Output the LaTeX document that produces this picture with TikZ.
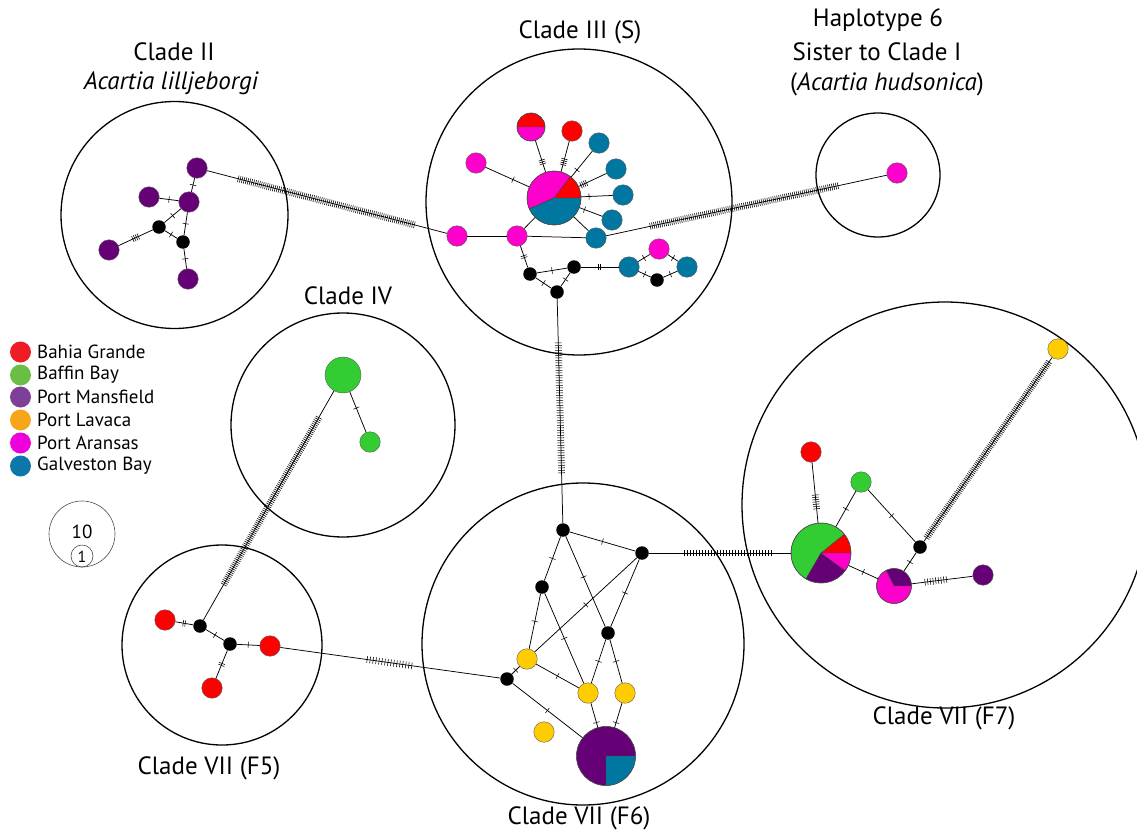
\documentclass[tikz,border=0pt]{standalone}
\usepackage{fontspec}
\setmainfont{PT Sans}
\usetikzlibrary{decorations.markings}
\definecolor{cR}{HTML}{FF0000}
\definecolor{cG}{HTML}{33CC33}
\definecolor{cP}{HTML}{660077}
\definecolor{cY}{HTML}{FFCC00}
\definecolor{cM}{HTML}{FF00CC}
\definecolor{cB}{HTML}{0077A0}
\definecolor{lR}{HTML}{EE1C25}
\definecolor{lG}{HTML}{6ABD45}
\definecolor{lP}{HTML}{7D3F98}
\definecolor{lY}{HTML}{F9A51A}
\definecolor{lM}{HTML}{EC00DC}
\definecolor{lB}{HTML}{0E77A9}
\newcommand{\pieslice}[5]{\filldraw[fill=#5, draw=black!75, line width=0.4pt] (#1) -- ++(#3:#2) arc[start angle=#3, end angle=#4, radius=#2] -- cycle;}
\tikzset{
  hap/.style={circle, draw=black!65, line width=0.4pt, inner sep=0pt, minimum size=20.5pt},
  nR/.style={hap, fill=cR},
  nG/.style={hap, fill=cG},
  nP/.style={hap, fill=cP},
  nY/.style={hap, fill=cY},
  nM/.style={hap, fill=cM},
  nB/.style={hap, fill=cB},
  med/.style={circle, fill=black, inner sep=0pt, minimum size=13.5pt},
  pienode/.style={circle, draw=black!70, line width=0.5pt, inner sep=0pt, minimum size=#1},
  clade/.style={circle, draw=black, line width=1.3pt, inner sep=0pt, minimum size=#1},
  edge/.style={line width=0.75pt},
  tickline/.style={line width=0.55pt},
  mt/.style n args={3}{postaction={decorate, decoration={markings, mark=at position #1 with {\foreach \i in {1,...,#2}{\draw[tickline] ({(\i-(#2+1)/2)*#3},-3.2pt) -- ++(0pt,6.4pt);}}}}},
  one/.style={mt={#1}{1}{2pt}},
  hatch/.style n args={3}{postaction={decorate, decoration={markings, mark=between positions #1 and #2 step #3 with {\draw[tickline] (0pt,-3.4pt) -- (0pt,3.4pt);}}}},
  lbl/.style={font=\fontsize{25}{29}\selectfont, inner sep=0pt},
  leg/.style={font=\fontsize{19}{22}\selectfont, inner sep=0pt, anchor=west},
  legdot/.style={circle, inner sep=0pt, minimum size=21pt},
}
\begin{document}
\begin{tikzpicture}[x=1pt,y=-1pt]
\clip (0,0) rectangle (1137,832);
\fill[white] (0,0) rectangle (1137,832);

% clade circles
\node[clade=227pt] (cl2) at (174.5,215) {};
\node[clade=306pt] (cl3) at (579,202) {};
\node[clade=124pt] (cl6) at (878,175) {};
\node[clade=224pt] (cl4) at (343,425) {};
\node[clade=200pt] (cl5) at (222,645) {};
\node[clade=322pt] (cl6b) at (583,644) {};
\node[clade=406pt] (cl7) at (945,505) {};

% labels
\node[lbl] (t2a) at (174,52) {Clade II};
\node[lbl] (t2b) at (171,83) {\itshape Acartia lilljeborgi};
\node[lbl] (t3) at (580,32) {Clade III (S)};
\node[lbl] (t6a) at (878,20) {Haplotype 6};
\node[lbl] (t6b) at (877,52) {Sister to Clade I};
\node[lbl] (t6c) at (887,84) {(\textit{Acartia hudsonica})};
\node[lbl] (t4) at (348,296) {Clade IV};
\node[lbl] (t5) at (209,768) {Clade VII (F5)};
\node[lbl] (t6f) at (579,818) {Clade VII (F6)};
\node[lbl] (t7) at (944,718) {Clade VII (F7)};

% legend
\node[legdot, fill=lR] (lg1) at (20.5,352) {};
\node[legdot, fill=lG] (lg2) at (20.5,375) {};
\node[legdot, fill=lP] (lg3) at (20.5,397) {};
\node[legdot, fill=lY] (lg4) at (20.5,420) {};
\node[legdot, fill=lM] (lg5) at (20.5,443) {};
\node[legdot, fill=lB] (lg6) at (20.5,466) {};
\node[leg] (lt1) at (37,352) {Bahia Grande};
\node[leg] (lt2) at (37,375) {Baffin Bay};
\node[leg] (lt3) at (37,397) {Port Mansfield};
\node[leg] (lt4) at (37,420) {Port Lavaca};
\node[leg] (lt5) at (37,443) {Port Aransas};
\node[leg] (lt6) at (37,466) {Galveston Bay};

% scale
\node[circle, draw=black!70, line width=0.6pt, minimum size=66pt, inner sep=0pt] (sc10) at (82,534) {};
\node[circle, draw=black!70, line width=0.6pt, minimum size=22pt, inner sep=0pt] (sc1) at (82,556) {};
\node[font=\fontsize{19}{22}\selectfont, inner sep=0pt] (sct10) at (82,532) {10};
\node[font=\fontsize{16}{19}\selectfont, inner sep=0pt] (sct1) at (82,556.5) {1};

% Clade II
\node[nP] (c2a) at (197,168) {};
\node[nP] (c2b) at (149,197) {};
\node[nP] (c2c) at (189,202) {};
\node[med] (c2k1) at (159,227) {};
\node[med] (c2k2) at (183,242) {};
\node[nP] (c2d) at (109,250) {};
\node[nP] (c2e) at (188,279) {};

% Clade III
\coordinate (c3Cc) at (554,198);
\pieslice{c3Cc}{27pt}{0}{53}{cR}
\pieslice{c3Cc}{27pt}{53}{204}{cM}
\pieslice{c3Cc}{27pt}{204}{360}{cB}
\node[pienode=54pt] (c3C) at (c3Cc) {};
\coordinate (c3hc) at (531,127);
\pieslice{c3hc}{14pt}{0}{180}{cR}
\pieslice{c3hc}{14pt}{180}{360}{cM}
\node[pienode=28pt] (c3h) at (c3hc) {};
\node[nR] (c3r) at (572,131) {};
\node[nB] (c3b1) at (599,143) {};
\node[nB] (c3b2) at (616,169) {};
\node[nB] (c3b3) at (623,195) {};
\node[nB] (c3b4) at (612,220) {};
\node[nB] (c3b5) at (596,238) {};
\node[nM] (c3m1) at (476,163) {};
\node[nM] (c3m2) at (457,236) {};
\node[nM] (c3m3) at (517,236) {};
\node[med] (c3k1) at (530,274) {};
\node[med] (c3k2) at (574,267) {};
\node[med] (c3k3) at (557,292) {};
\node[nB] (c3b6) at (629,267) {};
\node[nM] (c3m4) at (659,249) {};
\node[med] (c3k4) at (657,280) {};
\node[nB] (c3b7) at (687,267) {};

% Haplotype 6
\node[nM] (h6) at (897,173) {};

% Clade IV
\node[hap, fill=cG, minimum size=36pt] (c4a) at (343,375) {};
\node[nG] (c4b) at (370,442) {};

% F5
\node[nR] (f5r1) at (165,620) {};
\node[med] (f5k1) at (200,626) {};
\node[med] (f5k2) at (230,644) {};
\node[nR] (f5r2) at (270,646) {};
\node[nR] (f5r3) at (212,688) {};

% F6
\node[med] (f6k1) at (563,530) {};
\node[med] (f6k2) at (642,553) {};
\node[med] (f6k3) at (542,587) {};
\node[med] (f6k4) at (608,633) {};
\node[nY] (f6y1) at (527,659) {};
\node[med] (f6k5) at (507,679) {};
\node[nY] (f6y2) at (588,693) {};
\node[nY] (f6y3) at (625,693) {};
\node[nY] (f6y4) at (544,732) {};
\coordinate (f6pc) at (606,756);
\pieslice{f6pc}{29.5pt}{0}{270}{cP}
\pieslice{f6pc}{29.5pt}{270}{360}{cB}
\node[pienode=59pt] (f6pie) at (f6pc) {};

% F7
\coordinate (f7pc) at (821,553);
\pieslice{f7pc}{30pt}{0}{39}{cR}
\pieslice{f7pc}{30pt}{39}{240}{cG}
\pieslice{f7pc}{30pt}{240}{324}{cP}
\pieslice{f7pc}{30pt}{324}{360}{cM}
\node[pienode=60pt] (f7pie) at (f7pc) {};
\node[nR] (f7r) at (811,452) {};
\node[nG] (f7g) at (861,482) {};
\node[med] (f7k) at (920,547) {};
\coordinate (f7pmc) at (894,586);
\pieslice{f7pmc}{17.5pt}{0}{117}{cP}
\pieslice{f7pmc}{17.5pt}{117}{360}{cM}
\node[pienode=35pt] (f7pm) at (f7pmc) {};
\node[nP] (f7p) at (983,575) {};
\node[nY] (f7y) at (1058,349) {};

% edges Clade II
\draw[edge, one=0.5] (c2a) -- (c2c);
\draw[edge, one=0.5] (c2b) -- (c2c);
\draw[edge, one=0.5] (c2c) -- (c2k1);
\draw[edge, one=0.5] (c2c) -- (c2k2);
\draw[edge, one=0.5] (c2k1) -- (c2k2);
\draw[edge, mt={0.5}{4}{2pt}] (c2k1) -- (c2d);
\draw[edge, one=0.5] (c2k2) -- (c2e);
\draw[edge, hatch={0.13}{0.87}{2pt}] (c2a) -- (c3m2);

% edges Clade III
\draw[edge, mt={0.68}{3}{2pt}] (c3h) -- (c3C);
\draw[edge, mt={0.68}{4}{2pt}] (c3r) -- (c3C);
\draw[edge, one=0.73] (c3b1) -- (c3C);
\draw[edge, mt={0.82}{4}{2pt}] (c3b2) -- (c3C);
\draw[edge, one=0.75] (c3b3) -- (c3C);
\draw[edge, one=0.78] (c3b4) -- (c3C);
\draw[edge] (c3b5) -- (c3C);
\draw[edge, one=0.63] (c3m1) -- (c3C);
\draw[edge] (c3m3) -- (c3C);
\draw[edge] (c3m2) -- (c3m3);
\draw[edge] (c3m3) -- (c3b5);
\draw[edge, hatch={0.157}{0.83}{2pt}] (c3b5) -- (h6);
\draw[edge, mt={0.5}{2}{2pt}] (c3m3) -- (c3k1);
\draw[edge, one=0.5] (c3k1) -- (c3k2);
\draw[edge, one=0.5] (c3k1) -- (c3k3);
\draw[edge, one=0.5] (c3k3) -- (c3k2);
\draw[edge, mt={0.5}{2}{2pt}] (c3k2) -- (c3b6);
\draw[edge, one=0.5] (c3b6) -- (c3m4);
\draw[edge, one=0.5] (c3b6) -- (c3k4);
\draw[edge, one=0.5] (c3m4) -- (c3b7);
\draw[edge, one=0.5] (c3k4) -- (c3b7);
\draw[edge, hatch={0.196}{0.786}{2.5pt}] (c3k3) -- (f6k1);

% edges Clade IV
\draw[edge, one=0.4] (c4a) -- (c4b);
\draw[edge, hatch={0.117}{0.848}{2pt}] (c4a) -- (f5k1);

% edges F5
\draw[edge, mt={0.5}{2}{2pt}] (f5r1) -- (f5k1);
\draw[edge, one=0.5] (f5k1) -- (f5k2);
\draw[edge, one=0.5] (f5k2) -- (f5r2);
\draw[edge, mt={0.5}{2}{2pt}] (f5k2) -- (f5r3);
\draw[edge, hatch={0.395}{0.605}{3pt}] (f5r2) -- (f6k5);

% edges F6
\draw[edge, one=0.5] (f6k1) -- (f6k2);
\draw[edge, one=0.5] (f6k1) -- (f6k3);
\draw[edge, one=0.45] (f6k1) -- (f6k4);
\draw[edge, one=0.5] (f6k2) -- (f6k4);
\draw[edge, one=0.5] (f6k2) -- (f6y1);
\draw[edge, hatch={0.25}{0.87}{3pt}] (f6k2) -- (f7pie);
\draw[edge, one=0.5] (f6k3) -- (f6y1);
\draw[edge, one=0.5] (f6k3) -- (f6y2);
\draw[edge, one=0.5] (f6k4) -- (f6y2);
\draw[edge, one=0.5] (f6k4) -- (f6y3);
\draw[edge, one=0.5] (f6y1) -- (f6k5);
\draw[edge, one=0.5] (f6y1) -- (f6y2);
\draw[edge, one=0.5] (f6k5) -- (f6pie);
\draw[edge, one=0.8] (f6y2) -- (f6pie);
\draw[edge, one=0.8] (f6y3) -- (f6pie);

% edges F7
\draw[edge, hatch={0.54}{0.8}{2.3pt}] (f7r) -- (f7pie);
\draw[edge, one=0.5] (f7g) -- (f7pie);
\draw[edge, one=0.5] (f7g) -- (f7k);
\draw[edge, one=0.5] (f7pie) -- (f7pm);
\draw[edge, one=0.5] (f7k) -- (f7pm);
\draw[edge, hatch={0.22}{0.61}{2.7pt}] (f7pm) -- (f7p);
\draw[edge, hatch={0.02}{0.98}{2pt}] (f7k) -- (f7y);
\end{tikzpicture}
\end{document}
